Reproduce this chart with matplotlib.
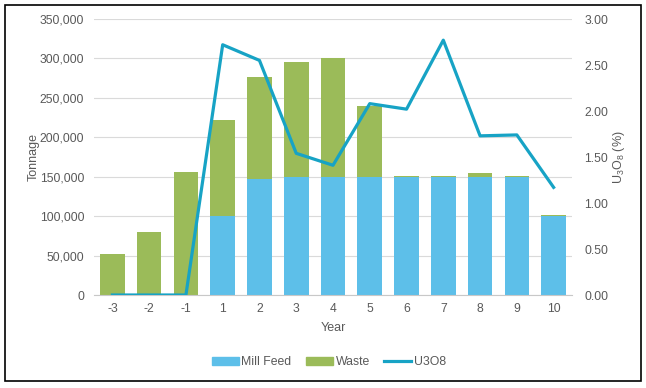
import numpy as np
import matplotlib.pyplot as plt
from matplotlib.patches import Rectangle, Patch
from matplotlib.lines import Line2D
from matplotlib.ticker import FuncFormatter

plt.rcParams['font.family'] = ['Liberation Sans', 'DejaVu Sans']
plt.rcParams['mathtext.fontset'] = 'custom'
plt.rcParams['mathtext.rm'] = 'Liberation Sans'

years = ['-3', '-2', '-1', '1', '2', '3', '4', '5', '6', '7', '8', '9', '10']
mill_feed = [0, 0, 0, 100000, 147000, 150000, 150000, 150000, 150000, 150000, 150000, 150000, 100000]
waste = [52000, 80000, 156000, 122000, 130000, 145000, 150000, 90000, 1500, 1500, 5000, 1500, 1500]
u3o8 = [0, 0, 0, 2.72, 2.55, 1.54, 1.41, 2.08, 2.02, 2.77, 1.73, 1.74, 1.17]

blue = '#5dbfe9'
green = '#9bbb59'
line_col = '#17a3c5'
txt = '#595959'

fig = plt.figure(figsize=(6.46, 3.88), dpi=100)
ax = fig.add_axes([94 / 646, 1 - 295 / 388, 478 / 646, 276 / 388])
ax2 = ax.twinx()

x = np.arange(len(years))
ax.bar(x, mill_feed, width=0.67, color=blue, zorder=2)
ax.bar(x, waste, width=0.67, bottom=mill_feed, color=green, zorder=2)
ax2.plot(x, u3o8, color=line_col, lw=2.3, zorder=3)

ax.set_xlim(-0.5, len(years) - 0.5)
ax.set_ylim(0, 350000)
ax.set_yticks(np.arange(0, 350001, 50000))
ax.yaxis.set_major_formatter(FuncFormatter(lambda v, p: f'{int(v):,}'))
ax2.set_ylim(0, 3.0)
ax2.set_yticks(np.arange(0, 3.01, 0.5))
ax2.yaxis.set_major_formatter(FuncFormatter(lambda v, p: f'{v:.2f}'))
ax.set_xticks(x)
ax.set_xticklabels(years)

ax.grid(axis='y', color='#dadada', lw=0.8, zorder=0)
ax.set_axisbelow(True)
for a in (ax, ax2):
    for s in a.spines.values():
        s.set_visible(False)
    a.tick_params(length=0, colors=txt, labelsize=8.7)
ax.spines['bottom'].set_visible(True)
ax.spines['bottom'].set_color('#c8c8c8')
ax.tick_params(axis='y', pad=7)
ax2.tick_params(axis='y', pad=9)
ax.tick_params(axis='x', pad=6)

ax.set_xlabel('Year', color=txt, fontsize=9, labelpad=5)
ax.set_ylabel('Tonnage', color=txt, fontsize=9, labelpad=0)
ax2.set_ylabel(r'U$\mathregular{_3}$O$\mathregular{_8}$ (%)', color=txt, fontsize=9, labelpad=2)

handles = [Patch(color=blue, label='Mill Feed'),
           Patch(color=green, label='Waste'),
           Line2D([], [], color=line_col, lw=2.3, label='U3O8')]
leg = fig.legend(handles=handles, loc='center', bbox_to_anchor=(329 / 646, 1 - 362 / 388),
                 ncol=3, frameon=False, fontsize=8.8, handlelength=2.2, handleheight=0.6,
                 handletextpad=0.2, columnspacing=1.2)
for t in leg.get_texts():
    t.set_color(txt)

fig.patches.append(Rectangle((5 / 646, 1 - 381 / 388), 636 / 646, 376 / 388,
                             transform=fig.transFigure, fill=False, ec='black', lw=1.2))

fig.savefig('out.png', dpi=100)
